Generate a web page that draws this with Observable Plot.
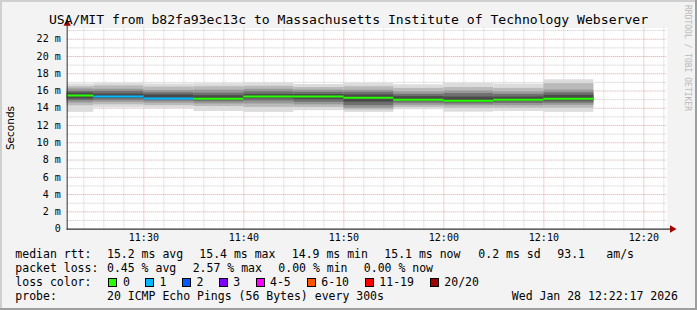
<!DOCTYPE html>
<html><head><meta charset="utf-8">
<script src="https://cdn.jsdelivr.net/npm/d3@7"></script>
<script src="https://cdn.jsdelivr.net/npm/@observablehq/plot@0.6"></script>
<style>
html,body{margin:0;padding:0;background:#f3f3f3;}
#frame{position:relative;width:697px;height:310px;background:#f3f3f3;overflow:hidden;font-family:"DejaVu Sans Mono",monospace;color:#000;}
.abs{position:absolute;white-space:pre;}
.lg{font-size:11.5px;line-height:14px;}
.box{position:absolute;width:9px;height:9px;box-sizing:border-box;border:1px solid #000;}
</style></head>
<body><div id="frame"></div>
<script>
// ---- data ----
const slotStart = ["11:20","11:25","11:30","11:35","11:40","11:45","11:50","11:55","12:00","12:05","12:10"];
const lossPings = [0,1,1,0,0,0,0,0,0,0,0];
const medianMs  = [15.49,15.37,15.14,15.10,15.37,15.37,15.22,14.99,14.87,14.99,15.10];
const ping01 = [13.52,14.03,13.98,13.63,13.52,13.72,13.52,13.83,13.55,13.63,13.52];
const ping03 = [14.29,14.40,14.30,14.20,14.10,14.10,13.80,14.10,14.00,14.00,14.00];
const ping05 = [14.61,14.70,14.60,14.50,14.50,14.40,14.00,14.35,14.30,14.30,14.35];
const ping07 = [14.87,14.95,14.85,14.75,14.85,14.70,14.30,14.60,14.50,14.55,14.60];
const ping09 = [15.07,15.15,15.00,14.95,15.10,15.00,14.70,14.85,14.70,14.80,14.85];
const ping12 = [15.76,15.65,15.55,15.45,15.60,15.60,15.55,15.35,15.30,15.30,15.50];
const ping14 = [15.95,15.95,15.80,15.75,15.90,15.85,15.85,15.60,15.70,15.60,15.80];
const ping16 = [16.23,16.20,16.05,16.10,16.20,16.10,16.10,15.90,16.00,15.90,16.10];
const ping18 = [16.49,16.60,16.45,16.50,16.55,16.40,16.50,16.30,16.40,16.30,16.85];
const ping20 = [16.81,16.88,16.81,16.85,16.92,16.75,16.88,16.72,16.88,16.81,17.30];

const yTicks = [0,2,4,6,8,10,12,14,16,18,20,22];
const yTickLabels = ["0","2 m","4 m","6 m","8 m","10 m","12 m","14 m","16 m","18 m","20 m","22 m"];
const xTickLabels = ["11:30","11:40","11:50","12:00","12:10","12:20"];

const lossKeys   = [0,1,2,3,5,10,19,20];
const lossLabels = ["0","1","2","3","4-5","6-10","11-19","20/20"];
const lossColors = ["#26ff00","#00b8ff","#0059ff","#7e00ff","#ff00ff","#ff5500","#ff0000","#a10000"];

const titleText = "USA/MIT from b82fa93ec13c to Massachusetts Institute of Technology Webserver";
const rttStats  = ["15.2 ms avg","15.4 ms max","14.9 ms min","15.1 ms now","0.2 ms sd","93.1","am/s"];
const lossStats = ["0.45 % avg","2.57 % max","0.00 % min","0.00 % now"];
const probeText = "20 ICMP Echo Pings (56 Bytes) every 300s";
const stampText = "Wed Jan 28 12:22:17 2026";

// ---- helpers ----
const T = (h,m,s=0) => new Date(Date.UTC(2026,0,28,h,m,s));
const parseHM = s => T(+s.slice(0,2), +s.slice(3,5));
const viewStart = T(11,22,20), viewEnd = T(12,22,20);
const lossColor = n => lossColors[lossKeys.findIndex(k => n <= k)];

const slots = slotStart.map((s,i) => {
  const t0 = parseHM(s);
  return {t0, t1: new Date(+t0 + 300000), loss: lossPings[i], median: medianMs[i],
    lo: [ping01[i],ping03[i],ping05[i],ping07[i],ping09[i]],
    hi: [ping20[i],ping18[i],ping16[i],ping14[i],ping12[i]]};
});
const bandColors = ["#dcdcdc","#bababa","#989898","#707070","#4a4a4a"];

const yMinor = d3.range(1,24,2);
const yMajor = d3.range(2,23,2);
const xMajor = xTickLabels.map(parseHM);
const xMinor = d3.range(0,31).map(i => new Date(+T(11,24) + i*120000)).filter(d => d.getUTCMinutes()%10 !== 0 && d <= viewEnd);

const majorCol = "#e0a0a0", minorCol = "#c8c8c8";

const marks = [
  Plot.frame({fill:"white"}),
  Plot.ruleY(yMinor, {stroke:minorCol, strokeDasharray:"1,1"}),
  Plot.ruleX(xMinor, {stroke:minorCol, strokeDasharray:"1,1"}),
  Plot.ruleY(yMajor, {stroke:majorCol, strokeDasharray:"1,1"}),
  Plot.ruleX(xMajor, {stroke:majorCol, strokeDasharray:"1,1"}),
];
bandColors.forEach((c,k) => {
  marks.push(Plot.rect(slots, {x1:"t0", x2:"t1", y1:d=>d.lo[k], y2:d=>d.hi[k], fill:c, clip:true}));
});
marks.push(
  Plot.ruleY(slots, {x1:"t0", x2:"t1", y:"median", stroke:d=>lossColor(d.loss), strokeWidth:2, clip:true}),
  Plot.ruleY([0], {x1:viewStart, x2:new Date(+viewEnd+22000), stroke:"#000"}),
  Plot.ruleX([viewStart], {y1:-0.15, y2:23.7, stroke:"#333"}),
  Plot.dot([0], {x:new Date(+viewEnd+30000), y:0, symbol:"triangle", r:2.8, fill:"#a10000", rotate:90}),
  Plot.dot([0], {x:viewStart, y:23.8, symbol:"triangle", r:2.8, fill:"#a10000"}),
  Plot.axisY(yTicks, {tickFormat:d=>yTickLabels[yTicks.indexOf(d)], tickSize:0, tickPadding:6.5, fontSize:10, label:null}),
  Plot.axisX(xMajor, {tickFormat:d=>xTickLabels[xMajor.findIndex(t=>+t===+d)], tickSize:0, tickPadding:5, fontSize:10, label:null})
);

const chart = Plot.plot({
  width:697, height:234,
  marginLeft:66.7, marginRight:30.3, marginTop:11.5, marginBottom:21.4,
  x:{type:"utc", domain:[viewStart, viewEnd]},
  y:{domain:[0,23.3]},
  color:{type:"identity"},
  style:{fontFamily:"DejaVu Sans Mono, monospace", fontSize:"10px", background:"transparent", overflow:"visible", color:"#000"},
  marks
});

const frame = document.getElementById("frame");
chart.style.position = "absolute"; chart.style.left = "0px"; chart.style.top = "16px";
frame.appendChild(chart);

function addText(txt, x, y, cls, extra) {
  const d = document.createElement("div");
  d.className = "abs " + (cls||"");
  d.textContent = txt;
  d.style.left = x + "px"; d.style.top = y + "px";
  if (extra) Object.assign(d.style, extra);
  frame.appendChild(d);
  return d;
}
// title
addText(titleText, 0, 11, "", {width:"697px", textAlign:"center", fontSize:"13.1px", lineHeight:"17px"});
// y label
addText("Seconds", -20, 121, "", {fontFamily:"'DejaVu Sans', sans-serif", fontSize:"10.5px", lineHeight:"14px", width:"60px", textAlign:"center", transform:"rotate(-90deg)"});
// watermark
addText("RRDTOOL / TOBI OETIKER", 683, 5, "", {writingMode:"vertical-rl", fontSize:"8px", color:"#b8b8b8", lineHeight:"9px"});

// legend
const rows = [247.3, 261.3, 275.3, 289];
addText("median rtt:", 15.3, rows[0], "lg");
[107, 199.3, 291.8, 384.3, 478.3, 557.3, 606.3].forEach((x,i) => addText(rttStats[i], x, rows[0], "lg"));
addText("packet loss:", 15.3, rows[1], "lg");
[107, 192.7, 278.3, 363.8].forEach((x,i) => addText(lossStats[i], x, rows[1], "lg"));
addText("loss color:", 15.3, rows[2], "lg");
const boxX = [108, 145.4, 182, 219, 256, 307, 365.4, 430.3];
const labX = [123, 159.5, 196.5, 233.2, 270, 321.3, 379.3, 444.3];
lossLabels.forEach((lab,i) => {
  const b = document.createElement("div");
  b.className = "box"; b.style.left = boxX[i] + "px"; b.style.top = "278px"; b.style.background = lossColors[i];
  frame.appendChild(b);
  addText(lab, labX[i], rows[2], "lg");
});
addText("probe:", 15.3, rows[3], "lg");
addText(probeText, 107, rows[3], "lg");
addText(stampText, 511.8, rows[3], "lg");

// 3D border
[["0px","0px","697px","2px","#cfcfcf"],["0px","0px","2px","310px","#cfcfcf"],
 ["695px","0px","2px","310px","#9e9e9e"],["0px","308px","697px","2px","#9e9e9e"]].forEach(([l,t,w,h,c]) => {
  const e = document.createElement("div");
  Object.assign(e.style, {position:"absolute", left:l, top:t, width:w, height:h, background:c});
  frame.appendChild(e);
});
</script></body></html>
